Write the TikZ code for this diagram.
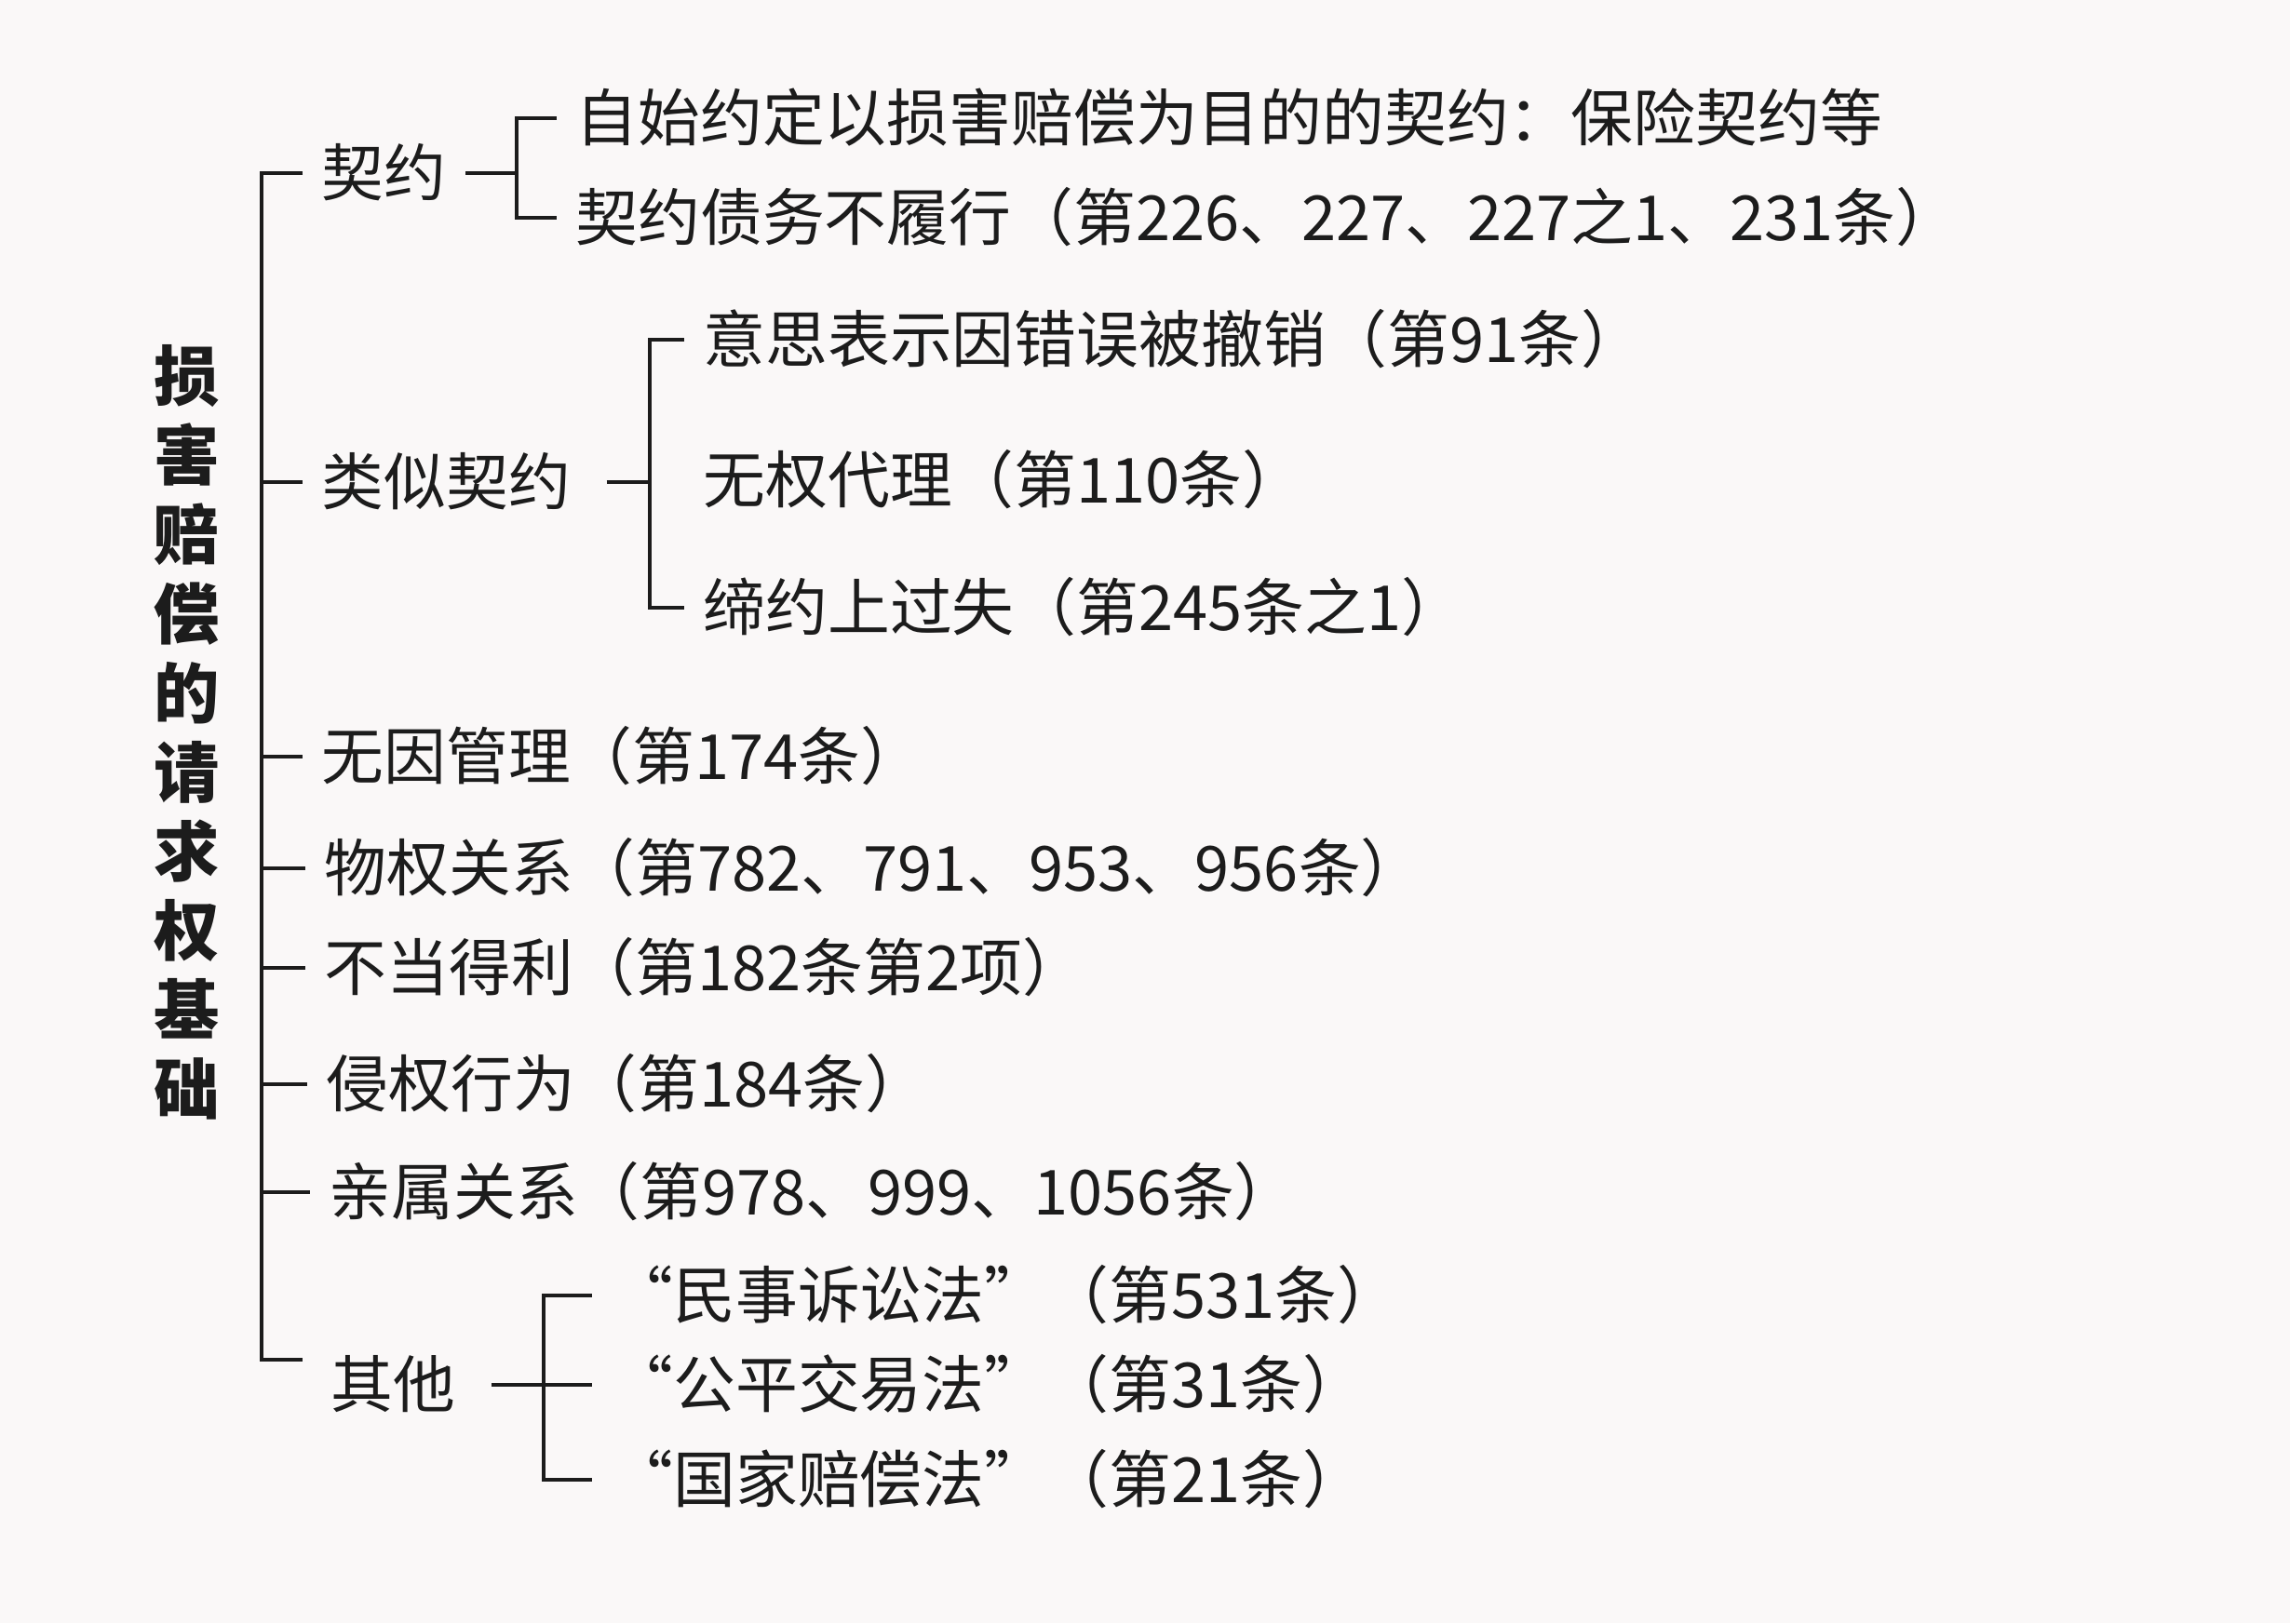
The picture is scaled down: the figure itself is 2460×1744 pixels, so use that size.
\documentclass[tikz,border=0pt]{standalone}
\usepackage{fontspec}
\setmainfont{Noto Sans CJK SC}
\usepackage{xcolor}
\usepackage{tikz}
\usetikzlibrary{calc}
\definecolor{ink}{HTML}{1C1C1C}
\definecolor{paper}{HTML}{FAF8F8}
\tikzset{
  brk/.style={draw=ink, line width=1.3pt},
  item/.style={text=ink, anchor=west, inner xsep=0.2cm, inner ysep=0pt,
    font=\fontsize{19}{23}\selectfont, text height=15pt, text depth=1pt},
  ttl/.style={text=ink, align=center, font=\fontsize{20}{24.2}\selectfont\bfseries}
}

\begin{document}
\begin{tikzpicture}[x=0.01cm, y=-0.01cm]
\fill[paper] (0,0) rectangle (2460,1744);
\useasboundingbox (0,0) rectangle (2460,1744);

% title
\node[ttl] (title) at (201,787) {损\\害\\赔\\偿\\的\\请\\求\\权\\基\\础};

% main branches
\node[item] (qiyue) at (325,186) {契约};
\node[item] (leisi) at (325,518) {类似契约};
\node[item] (wuyin) at (325,813) {无因管理（第174条）};
\node[item] (wuquan) at (328,933) {物权关系（第782、791、953、956条）};
\node[item] (budang) at (328,1040) {不当得利（第182条第2项）};
\node[item] (qinquan) at (330,1165) {侵权行为（第184条）};
\node[item] (qinshu) at (333,1281) {亲属关系（第978、999、1056条）};
\node[item] (qita) at (335,1488) {其他};

\coordinate (spine) at (281,0);
\coordinate (mbot) at (281,1461);
\draw[brk] (qiyue.west) -| (mbot) -- (mbot -| qiyue.west);
\foreach \n in {leisi,wuyin,wuquan,budang,qinquan,qinshu}
  \draw[brk] (spine |- \n.west) -- (\n.west);

% contract
\node[item] (qy1) at (598,127) {自始约定以损害赔偿为目的的契约：保险契约等};
\node[item] (qy2) at (598,234) {契约债务不履行（第226、227、227之1、231条）};
\coordinate (qyk) at (555,0);
\draw[brk] (qiyue.east) -- (qyk |- qiyue.east);
\draw[brk] (qy1.west) -| (qyk |- qy2.west) -- (qy2.west);

% quasi-contract
\node[item] (ls1) at (735,365) {意思表示因错误被撤销（第91条）};
\node[item] (ls2) at (735,516) {无权代理（第110条）};
\node[item] (ls3) at (735,653) {缔约上过失（第245条之1）};
\coordinate (lsk) at (698,0);
\draw[brk, shorten <=0.18cm] (leisi.east) -- (lsk |- leisi.east);
\draw[brk] (ls1.west) -| (lsk |- ls3.west) -- (ls3.west);

% other laws
\node[item] (qt1) at (636,1392) {“民事诉讼法”（第531条）};
\node[item] (qt2) at (636,1488) {“公平交易法”（第31条）};
\node[item] (qt3) at (636,1590) {“国家赔偿法”（第21条）};
\coordinate (qtk) at (584,0);
\draw[brk, shorten <=0.18cm] (qita.east) -- (qt2.west);
\draw[brk] (qt1.west) -| (qtk |- qt3.west) -- (qt3.west);
\end{tikzpicture}
\end{document}
